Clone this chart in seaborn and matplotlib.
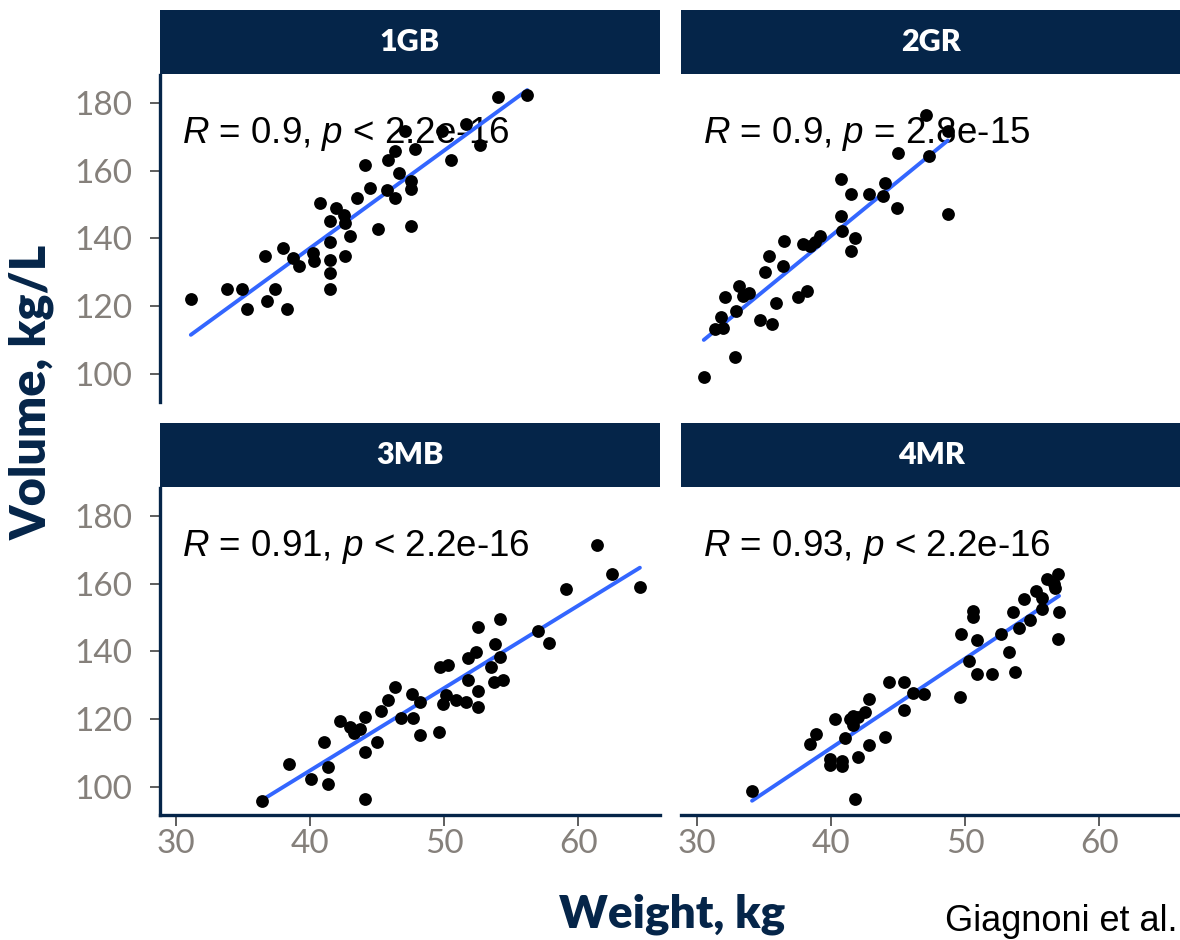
import numpy as np
import pandas as pd
import matplotlib
matplotlib.use('Agg')
import matplotlib.pyplot as plt
import seaborn as sns
from matplotlib.patches import Rectangle

# values
panels = ['1GB', '2GR', '3MB', '4MR']

gb_weight = [31.1, 33.8, 34.9, 35.3, 36.8, 37.4, 38.3, 36.6, 38.0, 38.7, 39.2, 40.2, 40.3, 41.5, 41.5,
             41.5, 42.6, 41.5, 40.7, 41.9, 41.5, 42.5, 43.0, 43.5, 42.6, 44.1, 44.5, 45.1, 45.7, 45.8,
             46.3, 46.6, 46.3, 47.1, 47.5, 47.5, 47.8, 47.5, 49.8, 50.5, 51.6, 52.7, 54.0, 56.2]
gb_volume = [122.1, 125.1, 125.1, 119.2, 121.4, 125.1, 119.2, 134.7, 137.2, 134.2, 131.8, 135.7, 133.2,
             133.7, 129.8, 125.1, 134.9, 138.8, 150.3, 149.0, 145.0, 147.0, 140.8, 152.0, 144.4, 161.5,
             154.9, 142.8, 154.4, 163.1, 165.7, 159.3, 152.0, 171.6, 156.9, 154.6, 166.4, 143.6, 171.6,
             163.1, 173.6, 167.4, 181.8, 182.2]

gr_weight = [30.5, 32.8, 31.3, 31.9, 31.8, 32.9, 32.1, 33.1, 33.4, 33.9, 34.7, 35.6, 35.9, 35.1, 35.4,
             36.4, 36.5, 37.5, 38.2, 37.9, 38.4, 39.2, 38.8, 40.7, 40.7, 40.8, 41.5, 41.8, 41.5, 42.8,
             44.0, 43.9, 44.9, 45.0, 47.1, 47.3, 48.7, 48.7]
gr_volume = [99.1, 105.0, 113.3, 113.6, 116.8, 118.5, 122.7, 125.9, 122.9, 123.9, 116.0, 114.6, 120.8,
             130.0, 134.7, 131.8, 139.1, 122.7, 124.4, 138.2, 137.7, 140.6, 138.8, 157.6, 146.5, 142.1,
             153.2, 140.1, 136.2, 153.2, 156.4, 152.4, 149.0, 165.2, 176.5, 164.2, 171.6, 147.3]

mb_weight = [36.4, 38.4, 40.1, 41.3, 41.3, 41.0, 44.1, 42.2, 43.0, 43.3, 43.7, 44.1, 44.1, 45.0, 45.3,
             45.8, 46.3, 46.8, 47.6, 47.7, 48.2, 48.2, 49.6, 49.7, 50.3, 49.9, 50.1, 50.9, 51.6, 51.8,
             51.8, 52.4, 52.5, 52.5, 52.5, 53.8, 54.2, 53.5, 53.7, 54.4, 54.2, 57.0, 57.8, 59.1, 61.4,
             62.5, 64.6]
mb_volume = [95.7, 106.8, 102.3, 100.9, 106.0, 113.3, 96.4, 119.5, 117.7, 115.8, 117.2, 120.6, 110.4,
             113.3, 122.4, 125.5, 129.6, 120.2, 127.5, 120.2, 115.3, 125.0, 116.2, 135.3, 136.1, 124.4,
             127.0, 125.5, 125.0, 131.6, 138.0, 139.9, 128.2, 123.5, 147.2, 142.1, 138.4, 135.4, 130.9,
             131.6, 149.5, 145.9, 142.6, 158.3, 171.5, 162.8, 159.0]

mr_weight = [34.1, 41.8, 38.4, 38.9, 39.9, 39.9, 40.8, 40.8, 41.0, 42.0, 42.8, 44.0, 40.3, 41.4, 41.6,
             42.0, 42.5, 42.8, 44.3, 45.4, 45.4, 46.1, 46.9, 49.6, 49.7, 50.3, 50.9, 50.6, 50.6, 50.9,
             52.0, 52.7, 53.3, 53.7, 53.6, 54.0, 54.4, 54.8, 55.3, 55.7, 55.7, 56.1, 56.6, 56.9, 56.7,
             57.0, 56.9, 41.6]
mr_volume = [98.7, 96.4, 112.8, 115.6, 108.1, 106.5, 106.2, 107.7, 114.3, 108.8, 112.5, 114.8, 119.9,
             119.9, 118.2, 120.6, 122.1, 126.0, 130.9, 130.9, 122.8, 127.6, 127.3, 126.5, 145.0, 137.0,
             143.3, 151.8, 150.0, 133.2, 133.2, 145.1, 139.7, 133.8, 151.6, 147.0, 155.4, 149.1, 157.8,
             155.8, 152.4, 161.2, 159.8, 162.7, 158.8, 151.6, 143.6, 121.0]

stat_labels = [r'$\it{R}$ = 0.9, $\it{p}$ < 2.2e-16',
               r'$\it{R}$ = 0.9, $\it{p}$ = 2.8e-15',
               r'$\it{R}$ = 0.91, $\it{p}$ < 2.2e-16',
               r'$\it{R}$ = 0.93, $\it{p}$ < 2.2e-16']

x_ticks = [30, 40, 50, 60]
y_ticks = [100, 120, 140, 160, 180]

weights = [gb_weight, gr_weight, mb_weight, mr_weight]
volumes = [gb_volume, gr_volume, mb_volume, mr_volume]
df = pd.concat([pd.DataFrame({'group': p, 'weight': w, 'volume': v})
                for p, w, v in zip(panels, weights, volumes)], ignore_index=True)

sns.set_theme(style='white')
plt.rcParams['font.family'] = ['Lato', 'DejaVu Sans']
plt.rcParams['mathtext.fontset'] = 'custom'
plt.rcParams['mathtext.rm'] = 'Liberation Sans'
plt.rcParams['mathtext.it'] = 'Liberation Sans:italic'

navy = '#052549'
tick_grey = '#85807b'

g = sns.FacetGrid(df, col='group', col_wrap=2, col_order=panels,
                  sharex=True, sharey=True, height=4, aspect=1.25, despine=False)
g.map_dataframe(sns.regplot, x='weight', y='volume', ci=None, color='black',
                scatter_kws=dict(s=85, color='black', alpha=1, linewidths=0, zorder=3),
                line_kws=dict(color='#3366FF', linewidth=2.8, zorder=2))

fig = g.figure
fig.set_size_inches(11.8, 9.4)
W, H = 1180, 940

# panel boxes in pixels: left, top, width, height
boxes = [(160, 75, 500, 327), (681, 75, 500, 327),
         (160, 488, 500, 327), (681, 488, 500, 327)]

for i, ax in enumerate(g.axes.flat):
    l, t, w, h = boxes[i]
    ax.set_position([l / W, 1 - (t + h) / H, w / W, h / H])
    ax.set_xlim(28.8, 66.1)
    ax.set_ylim(91.7, 188.2)
    ax.set_xticks(x_ticks)
    ax.set_yticks(y_ticks)
    ax.set_title('')
    ax.set_xlabel('')
    ax.set_ylabel('')
    ax.grid(False)
    left_col = i % 2 == 0
    bottom_row = i >= 2
    for s in ['top', 'right']:
        ax.spines[s].set_visible(False)
    ax.spines['left'].set_visible(left_col)
    ax.spines['bottom'].set_visible(bottom_row)
    for s in ['left', 'bottom']:
        ax.spines[s].set_color(navy)
        ax.spines[s].set_linewidth(2.4)
    ax.tick_params(axis='y', which='both', left=left_col, labelleft=left_col,
                   direction='out', length=7, width=1.1, color='#333333',
                   labelsize=24, labelcolor=tick_grey, pad=13)
    ax.tick_params(axis='x', which='both', bottom=bottom_row, labelbottom=bottom_row,
                   direction='out', length=8, width=1.1, color='#333333',
                   labelsize=24, labelcolor=tick_grey, pad=2)

    # strip on top of each panel
    ax.add_patch(Rectangle((0, 1 + 1 / h), 1, 64 / h, transform=ax.transAxes,
                           facecolor=navy, edgecolor='none', clip_on=False))
    ax.text(0.5, 1 + 33 / h, panels[i], transform=ax.transAxes, ha='center', va='center',
            color='white', fontsize=22, fontweight='heavy')

    ax.text(0.045, 0.793, stat_labels[i], transform=ax.transAxes, ha='left', va='baseline',
            fontsize=26.5, family=['Liberation Sans', 'DejaVu Sans'], color='black', zorder=1)

fig.text(32 / W, 1 - 392 / H, 'Volume, kg/L', rotation=90, ha='center', va='center',
         fontsize=35, fontweight='heavy', color=navy)
fig.text(672 / W, 1 - 914 / H, 'Weight, kg', ha='center', va='center',
         fontsize=33, fontweight='heavy', color=navy)
fig.text(945 / W, 1 - 931 / H, 'Giagnoni et al.', ha='left', va='baseline',
         fontsize=26, family=['Liberation Sans', 'DejaVu Sans'], color='black')

fig.savefig('out.png', dpi=100)
